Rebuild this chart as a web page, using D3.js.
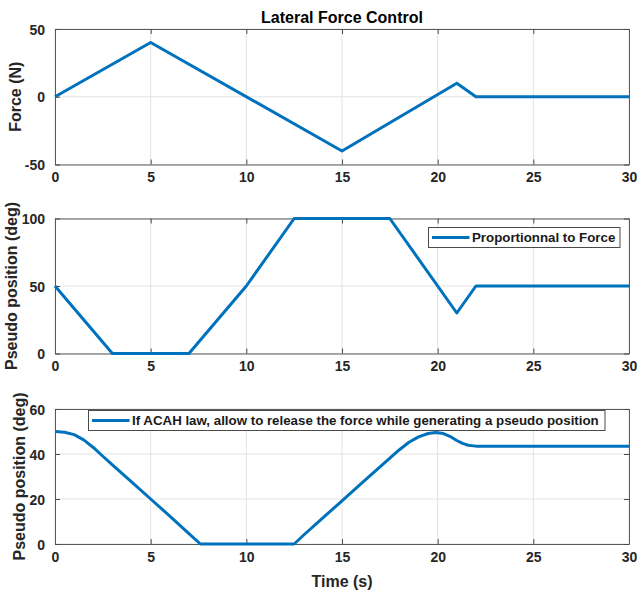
<!DOCTYPE html>
<html><head><meta charset="utf-8">
<script src="https://cdn.jsdelivr.net/npm/d3@7"></script>
<style>
html,body{margin:0;padding:0;background:#fff;}
svg text{font-family:"Liberation Sans",Arial,Helvetica,sans-serif;font-weight:bold;}
</style></head>
<body>
<svg id="chart" width="637" height="593"></svg>
<script>
// ---- data ----
const timeTicks = [0, 5, 10, 15, 20, 25, 30];
const forceTicks = [-50, 0, 50];
const pos1Ticks = [0, 50, 100];
const pos2Ticks = [0, 20, 40, 60];

const forceT = [0, 5, 15, 21, 22, 30];
const forceV = [0, 40, -40, 10, 0, 0];

const pos1T = [0, 3, 7, 10, 12.5, 17.5, 21, 22, 30];
const pos1V = [50, 0, 0, 50, 100, 100, 30, 50, 50];

const pos2T = [0, 0.5, 1.0, 1.5, 2.0, 2.5, 3.0, 4.0, 5.0, 6.0, 7.0, 7.6, 12.5, 13.0, 14.0, 15.0, 16.0, 17.0, 18.0, 18.5, 19.0, 19.5, 19.9, 20.3, 20.7, 21.0, 21.3, 21.6, 22.0, 30];
const pos2V = [50, 49.7, 48.6, 46.3, 42.9, 39.0, 35.2, 27.6, 20.0, 12.4, 4.6, 0, 0, 4.0, 11.6, 19.2, 26.8, 34.4, 41.9, 45.2, 47.6, 49.1, 49.6, 49.1, 47.6, 46.0, 44.7, 43.9, 43.5, 43.5];

const titleText = "Lateral Force Control";
const xLabel = "Time (s)";
const yLabels = ["Force (N)", "Pseudo position (deg)", "Pseudo position (deg)"];
const legend2 = "Proportionnal to Force";
const legend3 = "If ACAH law, allow to release the force while generating a pseudo position";

// ---- layout ----
const svg = d3.select("#chart");
const X0 = 55, X1 = 629;
const lineColor = "#0072BD";
const x = d3.scaleLinear().domain([0, 30]).range([X0, X1]);
const fmt = d => String(d);

const panels = [
  {top: 29, bottom: 164.5, domain: [-50, 50], ticks: forceTicks, t: forceT, v: forceV, ylab: yLabels[0], ylx: 20.5},
  {top: 218.5, bottom: 353.5, domain: [0, 100], ticks: pos1Ticks, t: pos1T, v: pos1V, ylab: yLabels[1], ylx: 16.5,
   legend: {text: legend2, x: 428.5, y: 227.5, w: 191.5, h: 20}},
  {top: 409, bottom: 544, domain: [0, 60], ticks: pos2Ticks, t: pos2T, v: pos2V, ylab: yLabels[2], ylx: 24.5,
   legend: {text: legend3, x: 88.5, y: 410.5, w: 516.5, h: 20}}
];

panels.forEach((p, i) => {
  const y = d3.scaleLinear().domain(p.domain).range([p.bottom, p.top]);
  const g = svg.append("g");
  // grid
  g.selectAll(".gx").data(timeTicks).join("line")
    .attr("x1", d => x(d)).attr("x2", d => x(d))
    .attr("y1", p.top).attr("y2", p.bottom)
    .attr("stroke", "#e3e3e3").attr("stroke-width", 1);
  g.selectAll(".gy").data(p.ticks).join("line")
    .attr("x1", X0).attr("x2", X1)
    .attr("y1", d => y(d)).attr("y2", d => y(d))
    .attr("stroke", "#e3e3e3").attr("stroke-width", 1);

  // axes with inward ticks (bottom/top/left/right)
  const tl = 5;
  const axB = g.append("g").attr("transform", `translate(0,${p.bottom})`)
    .call(d3.axisBottom(x).tickValues(timeTicks).tickSizeInner(-tl).tickSizeOuter(0).tickPadding(8).tickFormat(fmt));
  const axT = g.append("g").attr("transform", `translate(0,${p.top})`)
    .call(d3.axisTop(x).tickValues(timeTicks).tickSizeInner(-tl).tickSizeOuter(0).tickFormat(""));
  const axL = g.append("g").attr("transform", `translate(${X0},0)`)
    .call(d3.axisLeft(y).tickValues(p.ticks).tickSizeInner(-tl).tickSizeOuter(0).tickPadding(10).tickFormat(fmt));
  const axR = g.append("g").attr("transform", `translate(${X1},0)`)
    .call(d3.axisRight(y).tickValues(p.ticks).tickSizeInner(-tl).tickSizeOuter(0).tickFormat(""));
  [axB, axT, axL, axR].forEach(a => {
    a.select(".domain").attr("stroke", "#5a5a5a");
    a.selectAll(".tick line").attr("stroke", "#4a4a4a");
    a.selectAll("text").attr("font-size", 14).attr("fill", "#262626")
      .style("font-family", '"Liberation Sans", Arial, sans-serif').style("font-weight", "bold");
  });
  axL.selectAll("text").attr("dy", "0.36em");

  // line
  const pts = p.t.map((tt, k) => [tt, p.v[k]]);
  g.append("path").datum(pts)
    .attr("fill", "none").attr("stroke", lineColor).attr("stroke-width", 3)
    .attr("stroke-linejoin", "round")
    .attr("d", d3.line().x(d => x(d[0])).y(d => y(d[1])));

  // y label
  g.append("text")
    .attr("transform", `translate(${p.ylx},${(p.top + p.bottom) / 2}) rotate(-90)`)
    .attr("text-anchor", "middle").attr("font-size", 16).attr("fill", "#262626")
    .text(p.ylab);

  // legend
  if (p.legend) {
    const L = p.legend;
    const lg = g.append("g");
    lg.append("rect").attr("x", L.x).attr("y", L.y).attr("width", L.w).attr("height", L.h)
      .attr("fill", "#fff").attr("stroke", "#4a4a4a").attr("stroke-width", 1);
    lg.append("line").attr("x1", L.x + 3.5).attr("x2", L.x + 41)
      .attr("y1", L.y + L.h / 2).attr("y2", L.y + L.h / 2)
      .attr("stroke", lineColor).attr("stroke-width", 3);
    lg.append("text").attr("x", L.x + 43.5).attr("y", L.y + L.h / 2 + 4.7)
      .attr("font-size", 13.3).attr("fill", "#1a1a1a").text(L.text);
  }
});

// title
svg.append("text").attr("x", (X0 + X1) / 2).attr("y", 23)
  .attr("text-anchor", "middle").attr("font-size", 16).attr("fill", "#000")
  .text(titleText);

// x label
svg.append("text").attr("x", (X0 + X1) / 2).attr("y", 587)
  .attr("text-anchor", "middle").attr("font-size", 16).attr("fill", "#262626")
  .text(xLabel);
</script>
</body></html>
